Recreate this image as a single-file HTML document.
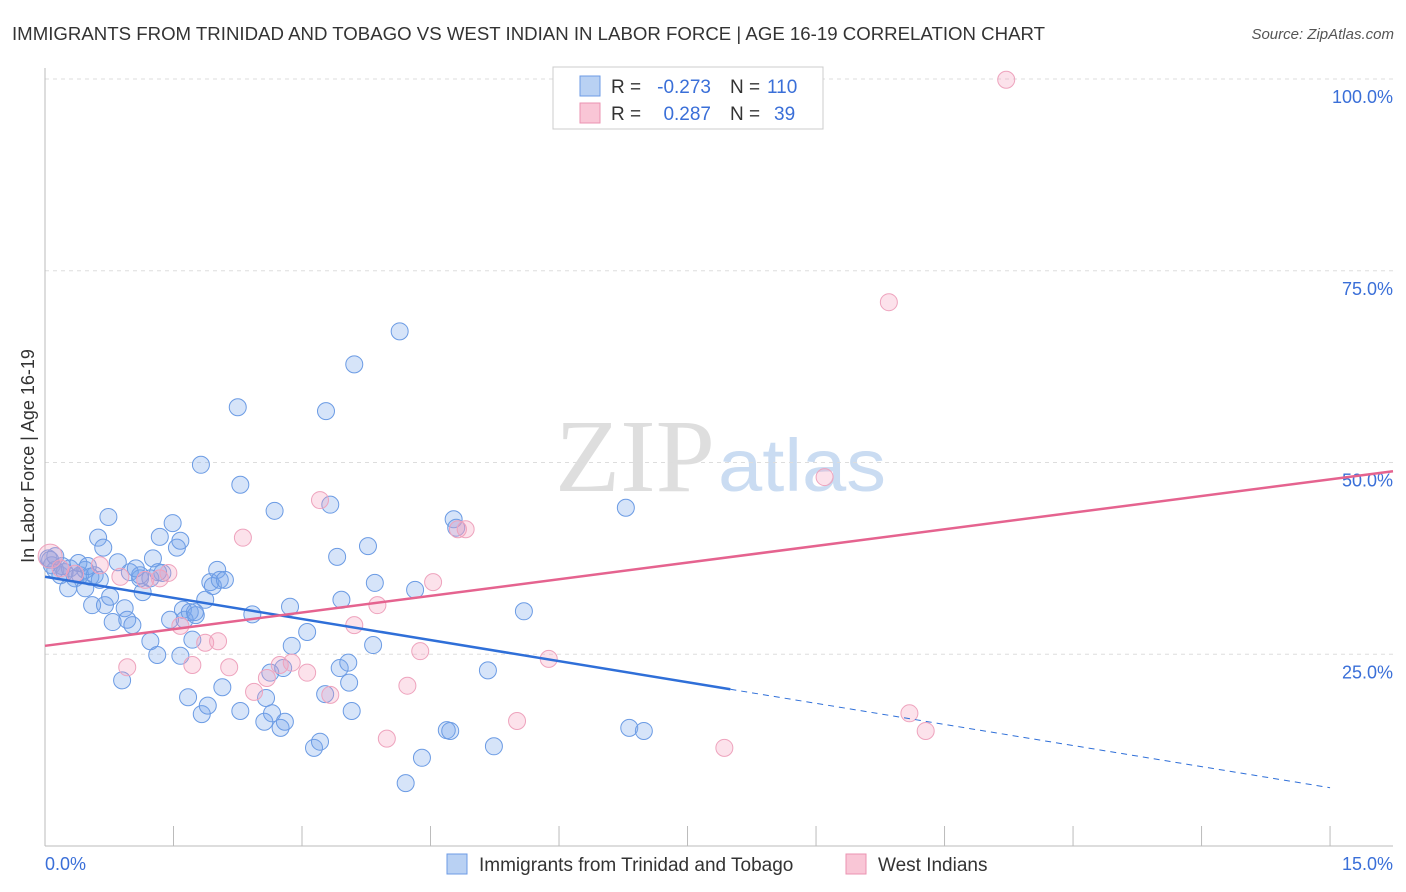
<!DOCTYPE html>
<html><head><meta charset="utf-8"><style>
body{margin:0;background:#fff;font-family:"Liberation Sans",sans-serif;}
</style></head><body>
<svg width="1406" height="892" style="display:block">
<text x="12" y="40" font-size="18" fill="#333" textLength="1033" lengthAdjust="spacingAndGlyphs">IMMIGRANTS FROM TRINIDAD AND TOBAGO VS WEST INDIAN IN LABOR FORCE | AGE 16-19 CORRELATION CHART</text>
<text x="1394" y="39" font-size="15" fill="#555" font-style="italic" text-anchor="end">Source: ZipAtlas.com</text>
<text x="555" y="491" font-size="104" fill="#dedede" textLength="160" lengthAdjust="spacingAndGlyphs" font-family="Liberation Serif">ZIP</text>
<text x="718" y="491" font-size="74" fill="#cadcf2" textLength="168" lengthAdjust="spacingAndGlyphs">atlas</text>
<g id="grid"></g>
<line x1="45" y1="68" x2="45" y2="846" stroke="#bbb"/>
<line x1="45" y1="846" x2="1393" y2="846" stroke="#bbb"/>
<g id="ticks"></g>
<text x="34" y="456" font-size="18" fill="#333" transform="rotate(-90 34 456)" text-anchor="middle">In Labor Force | Age 16-19</text>
<text x="45" y="870" font-size="18" fill="#3a6fd8">0.0%</text>
<text x="1393" y="870" font-size="18" fill="#3a6fd8" text-anchor="end">15.0%</text>
<g id="pts"></g>
<g id="lines"></g>
<g font-size="19">
<rect x="553" y="67" width="270" height="62" fill="#fff" stroke="#ccc"/>
<rect x="580" y="76" width="20" height="20" fill="#b9d1f3" stroke="#6d9be6"/>
<rect x="580" y="103" width="20" height="20" fill="#f9c6d6" stroke="#eb93b1"/>
<text x="611" y="93" fill="#333">R =</text>
<text x="711" y="93" fill="#3a6fd8" text-anchor="end">-0.273</text>
<text x="730" y="93" fill="#333">N =</text>
<text x="767" y="93" fill="#3a6fd8">110</text>
<text x="611" y="120" fill="#333">R =</text>
<text x="711" y="120" fill="#3a6fd8" text-anchor="end">0.287</text>
<text x="730" y="120" fill="#333">N =</text>
<text x="774" y="120" fill="#3a6fd8">39</text>
</g>
<g>
<rect x="447" y="854" width="20" height="20" fill="#b9d1f3" stroke="#6d9be6"/>
<text x="479" y="871" font-size="19" fill="#333">Immigrants from Trinidad and Tobago</text>
<rect x="846" y="854" width="20" height="20" fill="#f9c6d6" stroke="#eb93b1"/>
<text x="878" y="871" font-size="19" fill="#333">West Indians</text>
</g>
</svg>
<script>
const yTicks=[25,50,75,100];
const yTickLabels=["25.0%","50.0%","75.0%","100.0%"];
const xTicks=[0,1.5,3,4.5,6,7.5,9,10.5,12,13.5,15];
const blueX=[0.04,0.08,0.12,0.18,0.23,0.29,0.35,0.41,0.47,0.53,0.58,0.64,0.27,0.47,0.55,0.70,0.62,0.68,0.74,0.85,0.93,0.76,0.79,0.96,1.02,0.90,0.99,1.11,1.14,1.23,1.26,1.31,1.34,1.37,1.46,1.49,1.54,1.58,1.61,1.63,1.69,1.72,1.76,1.58,1.67,1.83,1.90,1.87,1.93,1.96,2.01,2.04,2.10,2.07,2.28,2.25,2.28,1.82,2.42,2.56,2.58,2.63,2.68,2.65,2.75,2.80,2.78,2.86,2.88,3.06,3.14,3.21,3.28,3.33,3.27,3.41,3.44,3.54,3.55,3.46,3.58,3.61,3.77,3.85,3.83,4.14,4.32,4.40,4.21,4.69,4.73,4.77,4.80,5.17,5.24,5.59,6.78,6.82,6.99,0.06,0.12,0.20,0.39,0.50,1.11,1.23,1.75,1.06,1.32];
const blueY=[37.5,36.6,36.0,35.3,35.7,36.2,34.9,35.3,36.0,35.1,35.3,34.7,33.6,33.6,31.4,31.4,40.2,38.9,42.9,37.0,31.0,32.5,29.2,29.5,28.8,21.6,35.7,34.9,33.1,26.7,37.5,24.9,40.3,35.6,29.5,42.1,38.9,39.8,30.8,29.5,30.5,26.9,30.1,24.8,19.4,17.2,18.3,32.1,34.4,33.9,36.0,34.7,34.7,20.7,17.6,57.2,47.1,49.7,30.2,16.2,19.3,22.6,43.7,17.3,15.4,16.2,23.2,31.2,26.1,27.9,12.8,13.6,56.7,44.5,19.8,37.7,23.2,23.9,21.3,32.1,17.6,62.8,39.1,34.3,26.2,67.1,33.4,11.5,8.2,15.1,15.0,42.6,41.5,22.9,13.0,30.6,44.1,15.4,15.0,37.3,37.8,36.5,36.9,36.5,35.3,34.9,30.5,36.2,35.7];
const pinkX=[0.06,0.18,0.35,0.64,0.88,1.17,1.34,1.44,0.96,1.58,1.72,1.87,2.02,2.15,2.31,2.44,2.59,2.74,2.88,3.06,3.21,3.33,3.61,3.88,3.99,4.23,4.38,4.53,4.82,4.91,5.51,5.88,7.93,9.10,9.85,10.09,10.28,11.22];
const pinkY=[37.8,36.2,35.5,36.6,35.1,34.7,34.9,35.6,23.3,28.7,23.6,26.5,26.7,23.3,40.2,20.1,21.9,23.6,23.9,22.6,45.1,19.7,28.8,31.4,14.0,20.9,25.4,34.4,41.3,41.3,16.3,24.4,12.8,48.1,70.9,17.3,15.0,99.9];
const blueTrend=[35.1,7.6], blueSolidEnd=8.0;
const pinkTrend=[26.1,47.8];
const NS="http://www.w3.org/2000/svg";
const sx=v=>45+v*85.67, sy=v=>846-v*7.67;
function mk(t,a,p){const e=document.createElementNS(NS,t);for(const k in a)e.setAttribute(k,a[k]);p.appendChild(e);return e;}
const grid=document.getElementById('grid'),ticks=document.getElementById('ticks'),pts=document.getElementById('pts'),lines=document.getElementById('lines');
yTicks.forEach((v,i)=>{
 const l=mk('line',{x1:45,x2:1393,y1:sy(v),y2:sy(v),stroke:'#ddd','stroke-dasharray':'4,4'},grid);
 
 
 const t=mk('text',{x:1393,y:sy(v)+24,'font-size':18,fill:'#3a6fd8','text-anchor':'end'},ticks);
 t.textContent=yTickLabels[i];
 
 
});
xTicks.forEach(v=>{
 const l=mk('line',{x1:sx(v),x2:sx(v),y1:826,y2:846,stroke:'#bbb'},ticks);
 
 
});
blueX.forEach((x,i)=>{
 const c=mk('circle',{cx:sx(x),cy:sy(blueY[i]),r:8.5,fill:'rgba(120,165,235,0.3)',stroke:'#6b9be4','stroke-width':1},pts);
 
 
});
pinkX.forEach((x,i)=>{
 const c=mk('circle',{cx:sx(x),cy:sy(pinkY[i]),r:i==0?12:8.5,fill:'rgba(245,160,190,0.3)',stroke:'#eea3bd','stroke-width':1},pts);
 
 
});
const by=x=>blueTrend[0]+(blueTrend[1]-blueTrend[0])*x/15;
let l1=mk('line',{x1:sx(0),y1:sy(by(0)),x2:sx(blueSolidEnd),y2:sy(by(blueSolidEnd)),stroke:'#2f6fd8','stroke-width':2.5},lines);


let l2=mk('line',{x1:sx(blueSolidEnd),y1:sy(by(blueSolidEnd)),x2:sx(15),y2:sy(by(15)),stroke:'#2f6fd8','stroke-width':1,'stroke-dasharray':'6,5'},lines);


const py=x=>pinkTrend[0]+(pinkTrend[1]-pinkTrend[0])*x/15;
let l3=mk('line',{x1:sx(0),y1:sy(py(0)),x2:1393,y2:sy(py((1393-45)/85.67)),stroke:'#e5638f','stroke-width':2.5},lines);


</script>
</body></html>
